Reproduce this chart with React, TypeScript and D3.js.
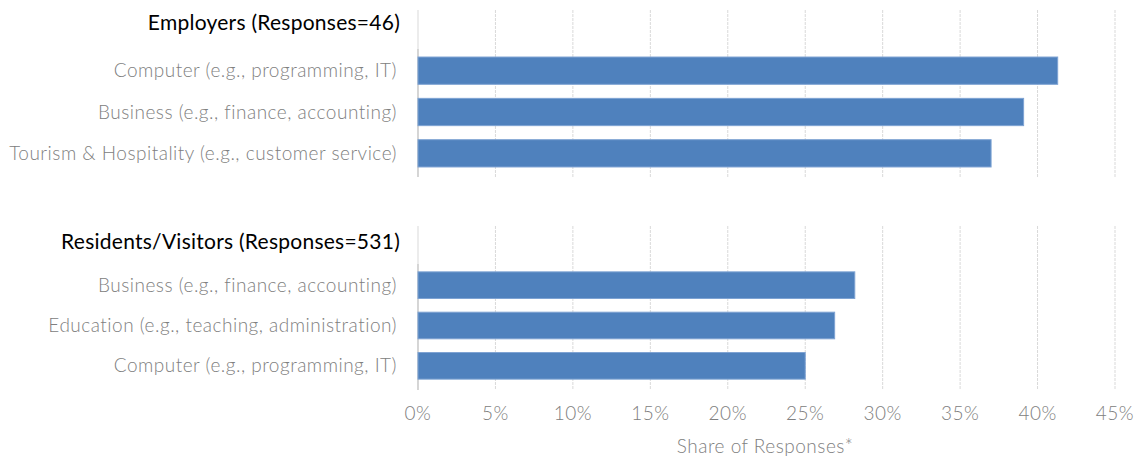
import React from "react";
import * as d3 from "d3";

const employerCategories = [
  "Computer (e.g., programming, IT)",
  "Business (e.g., finance, accounting)",
  "Tourism & Hospitality (e.g., customer service)",
];
const employerValues = [0.413, 0.391, 0.37];

const residentCategories = [
  "Business (e.g., finance, accounting)",
  "Education (e.g., teaching, administration)",
  "Computer (e.g., programming, IT)",
];
const residentValues = [0.282, 0.269, 0.25];

const xTicks = [0, 0.05, 0.1, 0.15, 0.2, 0.25, 0.3, 0.35, 0.4, 0.45];
const panelTitles = ["Employers (Responses=46)", "Residents/Visitors (Responses=531)"];
const axisTitle = "Share of Responses*";

const W = 1138;
const H = 460;
const FONT = "Lato, 'Open Sans', sans-serif";
const GRAY = "#808080";
const BAR = "#4f81bd";

export default function App() {
  const x = d3.scaleLinear().domain([0, 0.45]).range([418, 1115]);

  const panels = [
    { title: panelTitles[0], cats: employerCategories, vals: employerValues, gridTop: 10, gridBottom: 177, band: [50, 174] as [number, number], titleY: 30 },
    { title: panelTitles[1], cats: residentCategories, vals: residentValues, gridTop: 226, gridBottom: 390, band: [265, 386] as [number, number], titleY: 249 },
  ];

  const grayText = { fontFamily: FONT, fontSize: 19, fontWeight: 300, fill: GRAY, letterSpacing: 0.5 } as const;

  return (
    <svg width={W} height={H} style={{ position: "absolute", left: 0, top: 0, background: "#fff" }}>
      {panels.map((p, pi) => {
        const y = d3.scaleBand<string>().domain(p.cats).range(p.band).paddingInner(0.34).paddingOuter(0.17);
        return (
          <g key={pi}>
            {xTicks.map((t, i) => (
              <line
                key={i}
                x1={x(t)}
                x2={x(t)}
                y1={p.gridTop}
                y2={p.gridBottom}
                stroke="#d9d9d9"
                strokeWidth={1}
                strokeDasharray={t === 0 ? undefined : "3,1"}
              />
            ))}
            <line x1={x(0)} x2={x(0)} y1={p.band[0] - 1} y2={p.gridBottom} stroke="#bfbfbf" strokeWidth={1} />
            <text x={400} y={p.titleY} textAnchor="end" fontFamily={FONT} fontSize={21} letterSpacing={0.25} fill="#000">
              {p.title}
            </text>
            {p.cats.map((c, i) => {
              const yy = y(c)!;
              return (
                <g key={c}>
                  <rect
                    x={x(0)}
                    y={yy}
                    width={x(p.vals[i]) - x(0)}
                    height={y.bandwidth()}
                    fill={BAR}
                    stroke="#7ea3d3"
                    strokeWidth={1}
                  />
                  <text x={397} y={yy + y.bandwidth() / 2} dy="0.35em" textAnchor="end" {...grayText}>
                    {c}
                  </text>
                </g>
              );
            })}
          </g>
        );
      })}
      {xTicks.map((t, i) => (
        <text key={i} x={x(t)} y={413} dy="0.35em" textAnchor="middle" {...grayText}>
          {d3.format(".0%")(t)}
        </text>
      ))}
      <text x={765} y={446} dy="0.35em" textAnchor="middle" {...grayText}>
        {axisTitle}
      </text>
    </svg>
  );
}
